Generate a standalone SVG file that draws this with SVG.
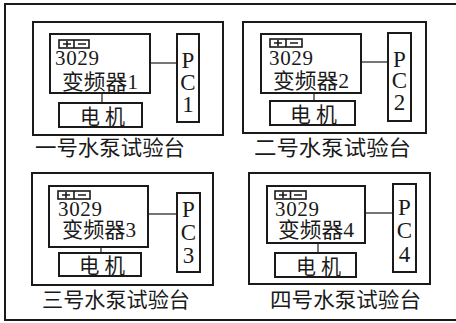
<svg xmlns="http://www.w3.org/2000/svg" width="456" height="323" viewBox="0 0 456 323">
<style>
.frame{fill:none;stroke:#1a1a1a;stroke-width:2}
.box{fill:#fff;stroke:#1a1a1a;stroke-width:2}
.pm{fill:none;stroke:#1a1a1a;stroke-width:1.6}
.conn{stroke:#1a1a1a;stroke-width:1.2;fill:none}
text{font-family:"Liberation Serif","Noto Sans CJK SC",serif;fill:#1a1a1a}
.t{font-size:21px}
.pc{font-size:23px;text-anchor:middle}
.lbl{font-size:21px}
</style>
<rect x="0" y="0" width="456" height="323" fill="#fff"/>
<path class="frame" d="M460,4 H5 V320 H460"/>

<g id="connectors">
<line class="conn" x1="150" y1="63" x2="177" y2="63"/>
<line class="conn" x1="102" y1="93" x2="102" y2="103"/>
<line class="conn" x1="361" y1="62" x2="388" y2="62"/>
<line class="conn" x1="314" y1="93" x2="314" y2="101"/>
<line class="conn" x1="148" y1="214" x2="177" y2="214"/>
<line class="conn" x1="101" y1="247" x2="101" y2="253"/>
<line class="conn" x1="365" y1="213" x2="393" y2="213"/>
<line class="conn" x1="318" y1="243" x2="318" y2="253"/>
</g>

<g id="bench1">
<rect class="frame" x="33" y="22" width="190" height="113"/>
<text class="lbl" x="35" y="155" textLength="150" lengthAdjust="spacingAndGlyphs">一号水泵试验台</text>
</g>
<g id="inverter1">
<rect class="box" x="50" y="34" width="100" height="59"/>
<rect class="pm" x="59" y="40" width="30" height="8"/>
<line class="pm" x1="74" y1="40" x2="74" y2="48"/>
<path class="pm" d="M63,44 H71 M67,41 V47 M78,44 H86"/>
<text class="t" x="55" y="65" textLength="44">3029</text>
<text class="t" x="62" y="89" textLength="76" lengthAdjust="spacingAndGlyphs">变频器1</text>
</g>
<g id="motor1">
<rect class="box" x="59" y="103" width="83" height="24"/>
<text class="t" x="80" y="124" textLength="45" lengthAdjust="spacingAndGlyphs">电 机</text>
</g>
<g id="pc1">
<rect class="box" x="177" y="34" width="22" height="88"/>
<text class="pc" x="188" y="68">P</text>
<text class="pc" x="188" y="90">C</text>
<text class="pc" x="188" y="112">1</text>
</g>

<g id="bench2">
<rect class="frame" x="243" y="22" width="183" height="111"/>
<text class="lbl" x="254" y="155" textLength="157" lengthAdjust="spacingAndGlyphs">二号水泵试验台</text>
</g>
<g id="inverter2">
<rect class="box" x="261" y="34" width="100" height="59"/>
<rect class="pm" x="270" y="39" width="32" height="8"/>
<line class="pm" x1="286" y1="39" x2="286" y2="47"/>
<path class="pm" d="M274,43 H282 M278,40 V46 M290,43 H298"/>
<text class="t" x="269" y="65" textLength="44">3029</text>
<text class="t" x="273" y="88" textLength="76" lengthAdjust="spacingAndGlyphs">变频器2</text>
</g>
<g id="motor2">
<rect class="box" x="270" y="101" width="85" height="24"/>
<text class="t" x="290" y="122" textLength="47" lengthAdjust="spacingAndGlyphs">电 机</text>
</g>
<g id="pc2">
<rect class="box" x="388" y="33" width="23" height="88"/>
<text class="pc" x="399.5" y="67">P</text>
<text class="pc" x="399.5" y="88">C</text>
<text class="pc" x="399.5" y="110">2</text>
</g>

<g id="bench3">
<rect class="frame" x="32" y="173" width="181" height="112"/>
<text class="lbl" x="42" y="307" textLength="148" lengthAdjust="spacingAndGlyphs">三号水泵试验台</text>
</g>
<g id="inverter3">
<rect class="box" x="49" y="186" width="99" height="61"/>
<rect class="pm" x="58" y="191" width="32" height="8"/>
<line class="pm" x1="74" y1="191" x2="74" y2="199"/>
<path class="pm" d="M62,195 H70 M66,192 V198 M78,195 H86"/>
<text class="t" x="58" y="216" textLength="44">3029</text>
<text class="t" x="62" y="237" textLength="74" lengthAdjust="spacingAndGlyphs">变频器3</text>
</g>
<g id="motor3">
<rect class="box" x="59" y="253" width="82" height="23"/>
<text class="t" x="79" y="273" textLength="46" lengthAdjust="spacingAndGlyphs">电 机</text>
</g>
<g id="pc3">
<rect class="box" x="177" y="193" width="23" height="79"/>
<text class="pc" x="188.5" y="217">P</text>
<text class="pc" x="188.5" y="240">C</text>
<text class="pc" x="188.5" y="263">3</text>
</g>

<g id="bench4">
<rect class="frame" x="249" y="173" width="181" height="111"/>
<text class="lbl" x="270" y="307" textLength="151" lengthAdjust="spacingAndGlyphs">四号水泵试验台</text>
</g>
<g id="inverter4">
<rect class="box" x="267" y="186" width="98" height="57"/>
<rect class="pm" x="275" y="191" width="31" height="8"/>
<line class="pm" x1="290.5" y1="191" x2="290.5" y2="199"/>
<path class="pm" d="M279,195 H287 M283,192 V198 M294,195 H302"/>
<text class="t" x="275" y="216" textLength="44">3029</text>
<text class="t" x="278" y="237" textLength="76" lengthAdjust="spacingAndGlyphs">变频器4</text>
</g>
<g id="motor4">
<rect class="box" x="275" y="253" width="81" height="24"/>
<text class="t" x="296" y="274" textLength="45" lengthAdjust="spacingAndGlyphs">电 机</text>
</g>
<g id="pc4">
<rect class="box" x="393" y="184" width="23" height="88"/>
<text class="pc" x="404.5" y="215">P</text>
<text class="pc" x="404.5" y="238">C</text>
<text class="pc" x="404.5" y="262">4</text>
</g>
</svg>
